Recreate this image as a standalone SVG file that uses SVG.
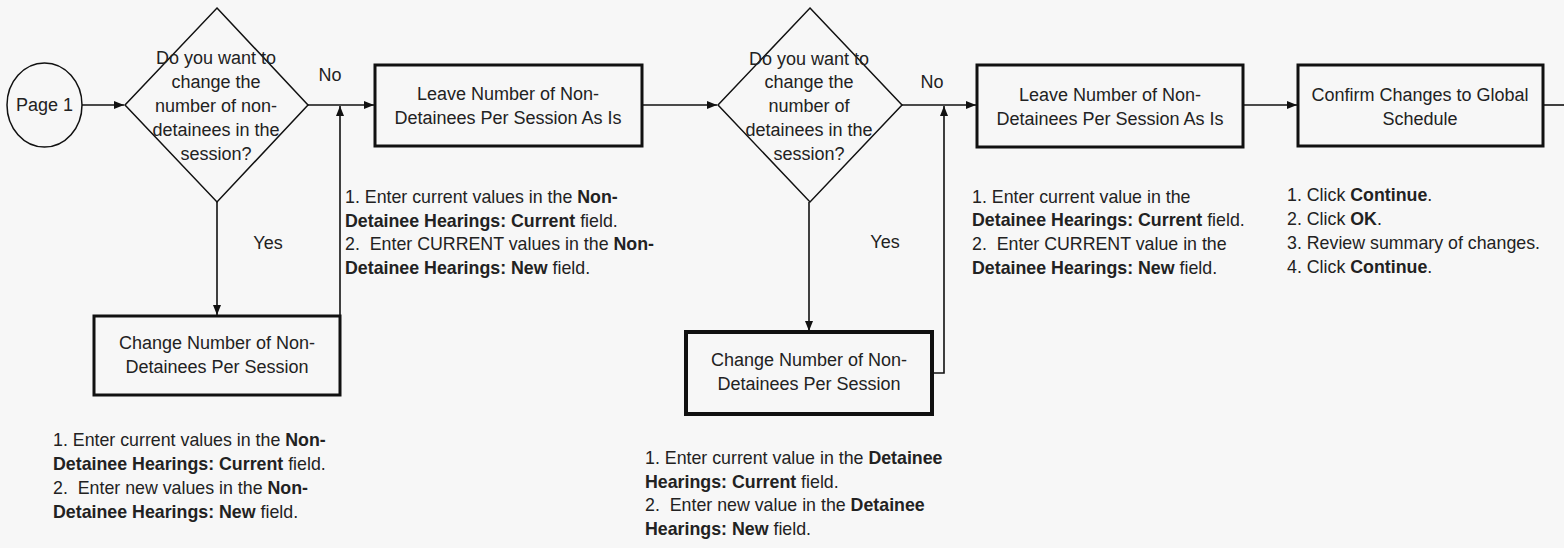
<svg xmlns="http://www.w3.org/2000/svg" width="1564" height="548" viewBox="0 0 1564 548">
<defs>
<marker id="arr" viewBox="0 0 10 10" refX="10" refY="5" markerWidth="10" markerHeight="10" markerUnits="userSpaceOnUse" orient="auto">
<path d="M0,1 L10,5 L0,9 Z" fill="#111"/>
</marker>
<style>
text{font-family:"Liberation Sans",Arial,sans-serif;fill:#222;}
.n{font-size:18px;text-anchor:middle;}
.a{font-size:17.8px;white-space:pre;}
.b{font-weight:bold;}
.box{fill:none;stroke:#111;stroke-width:3;}
.dia{fill:none;stroke:#111;stroke-width:1.5;}
.c{fill:none;stroke:#111;stroke-width:1.6;}
.lab{font-size:18px;text-anchor:middle;}
</style>
</defs>
<rect x="0" y="0" width="1564" height="548" fill="#f7f7f7"/>

<g id="connectors">
<path class="c" d="M82,105 H124" marker-end="url(#arr)"/>
<path class="c" d="M308,105 H374" marker-end="url(#arr)"/>
<path class="c" d="M217,202 V315" marker-end="url(#arr)"/>
<path class="c" d="M340,316 V106" marker-end="url(#arr)"/>
<path class="c" d="M642,105 H717" marker-end="url(#arr)"/>
<path class="c" d="M902,105 H976" marker-end="url(#arr)"/>
<path class="c" d="M809,202 V331" marker-end="url(#arr)"/>
<path class="c" d="M932,373 H944 V106" marker-end="url(#arr)"/>
<path class="c" d="M1243,105 H1297" marker-end="url(#arr)"/>
<path class="c" d="M1543,105 H1564"/>
<text class="lab" x="330" y="81">No</text>
<text class="lab" x="932" y="88">No</text>
<text class="lab" x="268" y="249">Yes</text>
<text class="lab" x="885" y="248">Yes</text>
</g>

<g id="page1">
<ellipse cx="44.5" cy="105" rx="37.5" ry="42" fill="none" stroke="#111" stroke-width="1.5"/>
<text class="n" x="44.5" y="111">Page 1</text>
</g>

<g id="decision1">
<polygon class="dia" points="217,8 308,105 217,202 125,105"/>
<text class="n" x="216" y="64">Do you want to</text>
<text class="n" x="216" y="88">change the</text>
<text class="n" x="216" y="112">number of non-</text>
<text class="n" x="216" y="136">detainees in the</text>
<text class="n" x="216" y="160">session?</text>
</g>

<g id="leave1">
<rect class="box" x="375" y="65" width="267" height="81"/>
<text class="n" x="508" y="100">Leave Number of Non-</text>
<text class="n" x="508" y="124">Detainees Per Session As Is</text>
</g>

<g id="change1">
<rect class="box" x="94" y="316" width="246" height="79"/>
<text class="n" x="217" y="349">Change Number of Non-</text>
<text class="n" x="217" y="373">Detainees Per Session</text>
</g>

<g id="decision2">
<polygon class="dia" points="810,8 902,105 810,202 718,105"/>
<text class="n" x="809" y="65">Do you want to</text>
<text class="n" x="809" y="88">change the</text>
<text class="n" x="809" y="112">number of</text>
<text class="n" x="809" y="136">detainees in the</text>
<text class="n" x="809" y="160">session?</text>
</g>

<g id="change2">
<rect class="box" x="686" y="332" width="246" height="82" style="stroke-width:4"/>
<text class="n" x="809" y="366">Change Number of Non-</text>
<text class="n" x="809" y="390">Detainees Per Session</text>
</g>

<g id="leave2">
<rect class="box" x="977" y="65" width="266" height="82"/>
<text class="n" x="1110" y="101">Leave Number of Non-</text>
<text class="n" x="1110" y="125">Detainees Per Session As Is</text>
</g>

<g id="confirm">
<rect class="box" x="1298" y="65" width="245" height="81"/>
<text class="n" x="1420" y="101">Confirm Changes to Global</text>
<text class="n" x="1420" y="125">Schedule</text>
</g>

<g id="notes-change1">
<text class="a" x="53" y="446">1. Enter current values in the <tspan class="b">Non-</tspan></text>
<text class="a" x="53" y="470"><tspan class="b">Detainee Hearings: Current</tspan> field.</text>
<text class="a" x="53" y="494">2.  Enter new values in the <tspan class="b">Non-</tspan></text>
<text class="a" x="53" y="518"><tspan class="b">Detainee Hearings: New</tspan> field.</text>
</g>

<g id="notes-leave1">
<text class="a" x="345" y="203">1. Enter current values in the <tspan class="b">Non-</tspan></text>
<text class="a" x="345" y="227"><tspan class="b">Detainee Hearings: Current</tspan> field.</text>
<text class="a" x="345" y="250">2.  Enter CURRENT values in the <tspan class="b">Non-</tspan></text>
<text class="a" x="345" y="274"><tspan class="b">Detainee Hearings: New</tspan> field.</text>
</g>

<g id="notes-change2">
<text class="a" x="645" y="464">1. Enter current value in the <tspan class="b">Detainee</tspan></text>
<text class="a" x="645" y="488"><tspan class="b">Hearings: Current</tspan> field.</text>
<text class="a" x="645" y="511">2.  Enter new value in the <tspan class="b">Detainee</tspan></text>
<text class="a" x="645" y="535"><tspan class="b">Hearings: New</tspan> field.</text>
</g>

<g id="notes-leave2">
<text class="a" x="972" y="203">1. Enter current value in the</text>
<text class="a" x="972" y="226"><tspan class="b">Detainee Hearings: Current</tspan> field.</text>
<text class="a" x="972" y="250">2.  Enter CURRENT value in the</text>
<text class="a" x="972" y="274"><tspan class="b">Detainee Hearings: New</tspan> field.</text>
</g>

<g id="notes-confirm">
<text class="a" x="1287" y="201">1. Click <tspan class="b">Continue</tspan>.</text>
<text class="a" x="1287" y="225">2. Click <tspan class="b">OK</tspan>.</text>
<text class="a" x="1287" y="249">3. Review summary of changes.</text>
<text class="a" x="1287" y="273">4. Click <tspan class="b">Continue</tspan>.</text>
</g>
</svg>
